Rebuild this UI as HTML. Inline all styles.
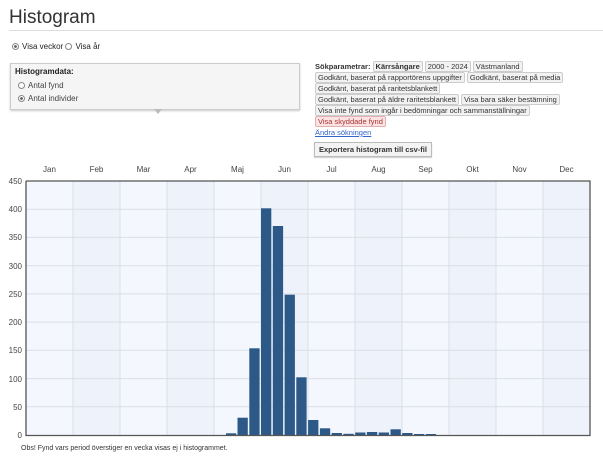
<!DOCTYPE html>
<html><head><meta charset="utf-8"><style>
body{margin:0;width:603px;height:456px;background:#fff;font-family:"Liberation Sans",sans-serif;position:relative;overflow:hidden;color:#222}
.a{position:absolute;white-space:nowrap}
.t{display:inline-block;border:1px solid #ccc;background:#f2f2f2;border-radius:2px;padding:0 2px;font-size:7.5px;line-height:9px;margin-right:2px;color:#333}
.r{display:inline-block;width:7px;height:7px;border:1px solid #888;border-radius:50%;vertical-align:-1px;margin-right:3px;background:#fff;box-sizing:border-box}
.r.on{background:radial-gradient(#666 35%,#fff 45%)}
</style></head><body>
<div class="a" style="left:9px;top:7px;font-size:19px;color:#333">Histogram</div>
<div class="a" style="left:9px;top:30px;width:594px;height:1px;background:#ddd"></div>
<div class="a" style="left:12px;top:42px;font-size:8px"><span class="r on"></span>Visa veckor <span class="r"></span>Visa år</div>
<div class="a" style="left:10px;top:63px;width:288px;height:45px;border:1px solid #ccc;background:#f5f5f5;box-shadow:0 1px 2px #ccc"></div>
<div class="a" style="left:15px;top:67px;font-size:8px;font-weight:bold">Histogramdata:</div>
<div class="a" style="left:18px;top:81px;font-size:8px;color:#444"><span class="r"></span>Antal fynd</div>
<div class="a" style="left:18px;top:94px;font-size:8px;color:#444"><span class="r on"></span>Antal individer</div>
<div class="a" style="left:154px;top:109px;width:0;height:0;border-left:4px solid transparent;border-right:4px solid transparent;border-top:5px solid #bbb"></div>
<div class="a" style="left:315px;top:61px;font-size:7.5px;line-height:11px">
<b style="color:#333">Sökparametrar:</b> <span class="t"><b>Kärrsångare</b></span><span class="t">2000 - 2024</span><span class="t">Västmanland</span><br>
<span class="t">Godkänt, baserat på rapportörens uppgifter</span><span class="t">Godkänt, baserat på media</span><br>
<span class="t">Godkänt, baserat på raritetsblankett</span><br>
<span class="t">Godkänt, baserat på äldre raritetsblankett</span><span class="t">Visa bara säker bestämning</span><br>
<span class="t">Visa inte fynd som ingår i bedömningar och sammanställningar</span><br>
<span class="t" style="background:#fbe3e3;border-color:#e0b0b0;color:#a33">Visa skyddade fynd</span><br>
<span style="color:#36c;text-decoration:underline">Ändra sökningen</span>
</div>
<div class="a" style="left:314px;top:142px;font-size:7.5px;border:1px solid #bbb;background:#f3f3f3;padding:2px 4px;font-weight:bold;color:#333;box-shadow:0 1px 1px #ccc">Exportera histogram till csv-fil</div>
<svg class="a" style="left:0;top:0" width="603" height="456" font-family="Liberation Sans, sans-serif" font-size="8" fill="#444">
<rect x="26" y="181" width="564" height="254" fill="#f4f7fd"/>
<g fill="#edf2fb">
<rect x="73" y="181" width="47" height="254"/><rect x="167" y="181" width="47" height="254"/><rect x="261" y="181" width="47" height="254"/><rect x="355" y="181" width="47" height="254"/><rect x="449" y="181" width="47" height="254"/><rect x="543" y="181" width="47" height="254"/>
</g>
<g stroke="#dadfe6" stroke-width="1">
<line x1="26" x2="590" y1="209.2" y2="209.2"/><line x1="26" x2="590" y1="237.4" y2="237.4"/><line x1="26" x2="590" y1="265.7" y2="265.7"/><line x1="26" x2="590" y1="293.9" y2="293.9"/><line x1="26" x2="590" y1="322.1" y2="322.1"/><line x1="26" x2="590" y1="350.3" y2="350.3"/><line x1="26" x2="590" y1="378.6" y2="378.6"/><line x1="26" x2="590" y1="406.8" y2="406.8"/>
<line x1="73" x2="73" y1="181" y2="435"/><line x1="120" x2="120" y1="181" y2="435"/><line x1="167" x2="167" y1="181" y2="435"/><line x1="214" x2="214" y1="181" y2="435"/><line x1="261" x2="261" y1="181" y2="435"/><line x1="308" x2="308" y1="181" y2="435"/><line x1="355" x2="355" y1="181" y2="435"/><line x1="402" x2="402" y1="181" y2="435"/><line x1="449" x2="449" y1="181" y2="435"/><line x1="496" x2="496" y1="181" y2="435"/><line x1="543" x2="543" y1="181" y2="435"/>
</g>
<g fill="#2c5987">
<rect x="226" y="433.3" width="10.3" height="1.7"/>
<rect x="237.5" y="417.7" width="10.3" height="17.3"/>
<rect x="249.3" y="348.3" width="10.3" height="86.7"/>
<rect x="261" y="208.3" width="10.3" height="226.7"/>
<rect x="272.8" y="226" width="10.3" height="209"/>
<rect x="284.6" y="294.7" width="10.3" height="140.3"/>
<rect x="296.3" y="377.3" width="10.3" height="57.7"/>
<rect x="308.1" y="420" width="10.3" height="15"/>
<rect x="319.9" y="428.3" width="10.3" height="6.7"/>
<rect x="331.6" y="433" width="10.3" height="2"/>
<rect x="343.4" y="433.8" width="10.3" height="1.2"/>
<rect x="355.2" y="432.5" width="10.3" height="2.5"/>
<rect x="366.9" y="432" width="10.3" height="3"/>
<rect x="378.7" y="432.5" width="10.3" height="2.5"/>
<rect x="390.5" y="429.3" width="10.3" height="5.7"/>
<rect x="402.2" y="433" width="10.3" height="2"/>
<rect x="414" y="434" width="10.3" height="1"/>
<rect x="425.8" y="434" width="10.3" height="1"/>
</g>
<path d="M26 181V435.5H590V181H26" fill="none" stroke="#555" stroke-width="1.3"/>
<g text-anchor="end">
<text x="22" y="184">450</text><text x="22" y="212">400</text><text x="22" y="240">350</text><text x="22" y="269">300</text><text x="22" y="297">250</text><text x="22" y="325">200</text><text x="22" y="353">150</text><text x="22" y="382">100</text><text x="22" y="410">50</text><text x="22" y="438">0</text>
</g>
<g text-anchor="middle">
<text x="49.5" y="172">Jan</text><text x="96.5" y="172">Feb</text><text x="143.5" y="172">Mar</text><text x="190.5" y="172">Apr</text><text x="237.5" y="172">Maj</text><text x="284.5" y="172">Jun</text><text x="331.5" y="172">Jul</text><text x="378.5" y="172">Aug</text><text x="425.5" y="172">Sep</text><text x="472.5" y="172">Okt</text><text x="519.5" y="172">Nov</text><text x="566.5" y="172">Dec</text>
</g>
<text x="21" y="450" font-size="7" fill="#333">Obs! Fynd vars period överstiger en vecka visas ej i histogrammet.</text>
</svg>
</body></html>
